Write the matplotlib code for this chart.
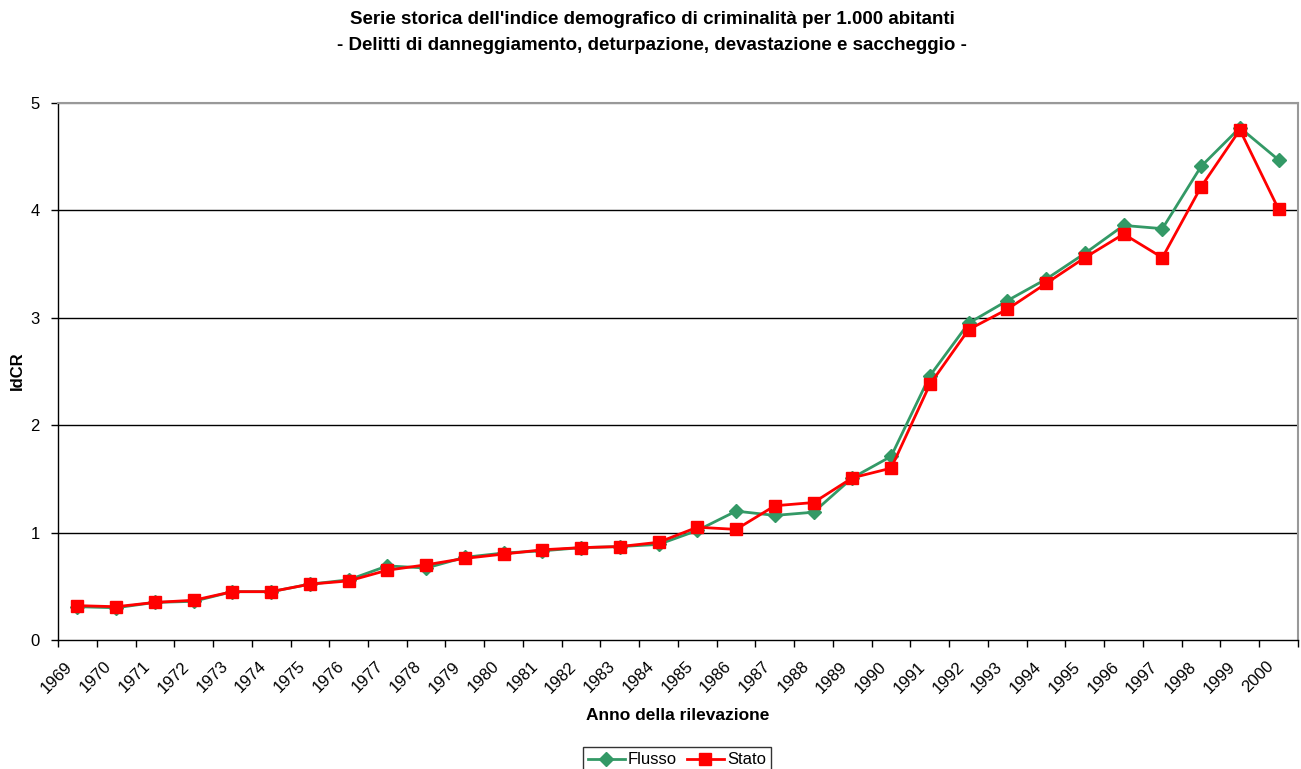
import matplotlib
matplotlib.use("Agg")
import matplotlib.pyplot as plt
import matplotlib.transforms as mtransforms
import numpy as np

plt.rcParams['font.family'] = ['Liberation Sans', 'DejaVu Sans']

years = [str(y) for y in range(1969, 2001)]
flusso = [0.31, 0.30, 0.35, 0.36, 0.45, 0.45, 0.52, 0.56, 0.69, 0.67,
          0.77, 0.81, 0.83, 0.86, 0.87, 0.89, 1.02, 1.20, 1.16, 1.19,
          1.51, 1.71, 2.46, 2.95, 3.16, 3.36, 3.60, 3.86, 3.83, 4.41,
          4.77, 4.47]
stato = [0.32, 0.31, 0.35, 0.37, 0.45, 0.45, 0.52, 0.55, 0.65, 0.70,
         0.76, 0.80, 0.84, 0.86, 0.87, 0.91, 1.05, 1.03, 1.25, 1.28,
         1.51, 1.60, 2.38, 2.89, 3.08, 3.32, 3.56, 3.78, 3.56, 4.22,
         4.75, 4.01]
yticks = [0, 1, 2, 3, 4, 5]

fig = plt.figure(figsize=(13.01, 7.69), dpi=100)
ax = fig.add_axes([58/1301, 1-640/769, (1298-58)/1301, (640-103)/769])

x = np.arange(len(years))
ax.plot(x, flusso, color='#339966', lw=2, marker='D', ms=7, label='Flusso', zorder=3)
ax.plot(x, stato, color='#FF0000', lw=2, marker='s', ms=9, label='Stato', zorder=4)

ax.set_xlim(-0.5, len(years) - 0.5)
ax.set_ylim(0, 5)
ax.set_yticks(yticks)
ax.set_yticklabels([str(v) for v in yticks], fontsize=12)
for v in yticks[1:]:
    ax.axhline(v, color='black' if v < 5 else '#999999', lw=1, zorder=1)

ax.set_xticks(x)
ax.set_xticklabels([])
ax.tick_params(axis='x', which='major', length=0)
offset = mtransforms.ScaledTranslation(-7/100, -24/100, fig.dpi_scale_trans)
trans = ax.get_xaxis_transform() + offset
for xi, lab in zip(x, years):
    ax.text(xi, 0, lab, transform=trans, rotation=45, ha='right', va='center',
            rotation_mode='anchor', fontsize=12, clip_on=False)
ax.set_xticks(np.arange(-0.5, len(years) + 0.5, 1), minor=True)
ax.tick_params(axis='x', which='minor', length=5, width=1, direction='out')
ax.tick_params(axis='y', length=5, width=1, direction='out', pad=8)

for s in ['left', 'bottom']:
    ax.spines[s].set_color('black')
    ax.spines[s].set_linewidth(1)
for s in ['top', 'right']:
    ax.spines[s].set_color('#999999')
    ax.spines[s].set_linewidth(1.5)

fig.text(652/1301, 1-20/769, "Serie storica dell'indice demografico di criminalità per 1.000 abitanti",
         ha='center', va='center', fontsize=13.5, fontweight='bold')
fig.text(652/1301, 1-45/769, "- Delitti di danneggiamento, deturpazione, devastazione e saccheggio -",
         ha='center', va='center', fontsize=13.5, fontweight='bold')
fig.text(17/1301, 1-371/769, "IdCR", rotation=90, ha='center', va='center', fontsize=12, fontweight='bold')
fig.text(678/1301, 1-716/769, "Anno della rilevazione", ha='center', va='center', fontsize=12.5, fontweight='bold')

leg = fig.legend(loc='upper center', bbox_to_anchor=(677/1301, 1-739/769), ncol=2,
                 frameon=True, fancybox=False, edgecolor='black', fontsize=12,
                 handlelength=2.2, columnspacing=0.6, handletextpad=0.2, borderpad=0.3)
leg.get_frame().set_linewidth(1)

fig.savefig('out.png', dpi=100)
